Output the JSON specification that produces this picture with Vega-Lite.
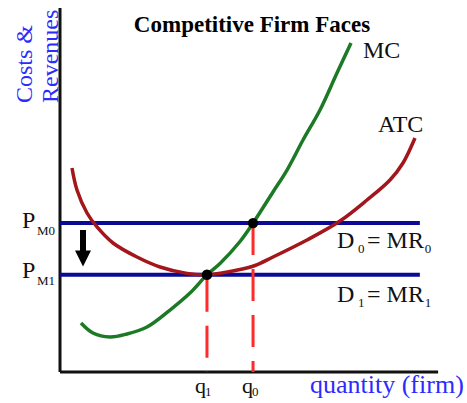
{
  "$schema": "https://vega.github.io/schema/vega-lite/v6.json",
  "autosize": "none",
  "width": 467,
  "height": 403,
  "padding": 0,
  "background": "white",
  "config": {"view": {"stroke": null}},
  "datasets": {
    "curves": [
      {"series": "MC", "q": 0.553, "p": 1.346},
      {"series": "MC", "q": 0.868, "p": 1.071},
      {"series": "MC", "q": 1.316, "p": 0.962},
      {"series": "MC", "q": 1.763, "p": 1.044},
      {"series": "MC", "q": 2.289, "p": 1.236},
      {"series": "MC", "q": 2.895, "p": 1.703},
      {"series": "MC", "q": 3.421, "p": 2.17},
      {"series": "MC", "q": 3.868, "p": 2.67},
      {"series": "MC", "q": 4.211, "p": 2.981},
      {"series": "MC", "q": 4.737, "p": 3.585},
      {"series": "MC", "q": 5.08, "p": 4.09},
      {"series": "MC", "q": 5.605, "p": 4.945},
      {"series": "MC", "q": 5.974, "p": 5.549},
      {"series": "MC", "q": 6.395, "p": 6.374},
      {"series": "MC", "q": 6.842, "p": 7.198},
      {"series": "MC", "q": 7.289, "p": 8.214},
      {"series": "MC", "q": 7.658, "p": 9.038},
      {"series": "ATC", "q": 0.316, "p": 5.604},
      {"series": "ATC", "q": 0.447, "p": 5.0},
      {"series": "ATC", "q": 0.711, "p": 4.368},
      {"series": "ATC", "q": 0.974, "p": 3.984},
      {"series": "ATC", "q": 1.395, "p": 3.544},
      {"series": "ATC", "q": 2.026, "p": 3.159},
      {"series": "ATC", "q": 2.632, "p": 2.885},
      {"series": "ATC", "q": 3.342, "p": 2.71},
      {"series": "ATC", "q": 3.868, "p": 2.67},
      {"series": "ATC", "q": 4.737, "p": 2.816},
      {"series": "ATC", "q": 5.132, "p": 2.926},
      {"series": "ATC", "q": 5.605, "p": 3.159},
      {"series": "ATC", "q": 6.5, "p": 3.626},
      {"series": "ATC", "q": 7.368, "p": 4.148},
      {"series": "ATC", "q": 8.079, "p": 4.725},
      {"series": "ATC", "q": 8.684, "p": 5.275},
      {"series": "ATC", "q": 9.026, "p": 5.742},
      {"series": "ATC", "q": 9.342, "p": 6.429}
    ]
  },
  "encoding": {
    "x": {"type": "quantitative", "scale": {"domain": [0, 10], "range": [60, 440], "zero": false, "nice": false}, "axis": null},
    "y": {"type": "quantitative", "scale": {"domain": [0, 10], "range": [372, 8], "zero": false, "nice": false}, "axis": null}
  },
  "layer": [
    {
      "data": {"values": [{"q0": 0, "q1": 9.95, "p0": 0, "p1": 0}, {"q0": 0, "q1": 0, "p0": 0, "p1": 10}]},
      "mark": {"type": "rule", "color": "#111111", "strokeWidth": 3},
      "encoding": {"x": {"field": "q0"}, "x2": {"field": "q1"}, "y": {"field": "p0"}, "y2": {"field": "p1"}}
    },
    {
      "data": {"values": [{"name": "D0", "p": 4.09, "q0": 0, "q1": 9.47}, {"name": "D1", "p": 2.67, "q0": 0, "q1": 9.47}]},
      "mark": {"type": "rule", "color": "#0a0a96", "strokeWidth": 4},
      "encoding": {"x": {"field": "q0"}, "x2": {"field": "q1"}, "y": {"field": "p"}}
    },
    {
      "data": {"values": [{"q": 5.08, "p0": 4.09, "p1": 0}]},
      "mark": {"type": "rule", "color": "#ff2a2a", "strokeWidth": 3, "strokeDash": [32, 14]},
      "encoding": {"x": {"field": "q"}, "y": {"field": "p0"}, "y2": {"field": "p1"}}
    },
    {
      "data": {"values": [{"q": 3.868, "p0": 2.67, "p1": 0}]},
      "mark": {"type": "rule", "color": "#ff2a2a", "strokeWidth": 3, "strokeDash": [32, 14], "strokeDashOffset": 41},
      "encoding": {"x": {"field": "q"}, "y": {"field": "p0"}, "y2": {"field": "p1"}}
    },
    {
      "data": {"name": "curves"},
      "mark": {"type": "line", "strokeWidth": 3.5, "interpolate": "catmull-rom"},
      "encoding": {
        "x": {"field": "q"},
        "y": {"field": "p"},
        "color": {"field": "series", "type": "nominal", "scale": {"domain": ["MC", "ATC"], "range": ["#1c7a26", "#a3161b"]}, "legend": null}
      }
    },
    {
      "data": {"values": [{"q": 3.868, "p": 2.67}, {"q": 5.08, "p": 4.09}]},
      "mark": {"type": "point", "shape": "circle", "filled": true, "color": "#000000", "size": 110, "opacity": 1},
      "encoding": {"x": {"field": "q"}, "y": {"field": "p"}}
    },
    {
      "data": {"values": [{"q": 0.605, "p0": 3.901, "p1": 3.25}]},
      "mark": {"type": "rule", "color": "#000000", "strokeWidth": 6},
      "encoding": {"x": {"field": "q"}, "y": {"field": "p0"}, "y2": {"field": "p1"}}
    },
    {
      "data": {"values": [{"q": 0.605, "p": 3.118}]},
      "mark": {"type": "point", "shape": "M-1,-1L1,-1L0,1Z", "filled": true, "color": "#000000", "size": 256, "opacity": 1},
      "encoding": {"x": {"field": "q"}, "y": {"field": "p"}}
    },
    {
      "data": {"values": [{"label": "Competitive Firm Faces", "q": 5.053, "p": 9.341}]},
      "mark": {"type": "text", "font": "Liberation Serif", "fontWeight": "bold", "fontSize": 23, "align": "center", "baseline": "alphabetic", "color": "#000000"},
      "encoding": {"x": {"field": "q"}, "y": {"field": "p"}, "text": {"field": "label"}}
    },
    {
      "data": {"values": [
        {"label": "MC", "q": 7.974, "p": 8.626},
        {"label": "ATC", "q": 8.368, "p": 6.593},
        {"label": "P", "q": -1.0, "p": 3.956},
        {"label": "P", "q": -1.0, "p": 2.582},
        {"label": "D", "q": 7.289, "p": 3.407},
        {"label": "= MR", "q": 8.079, "p": 3.407},
        {"label": "D", "q": 7.289, "p": 1.923},
        {"label": "= MR", "q": 8.079, "p": 1.923}
      ]},
      "mark": {"type": "text", "font": "Liberation Serif", "fontSize": 24, "align": "left", "baseline": "alphabetic", "color": "#111111"},
      "encoding": {"x": {"field": "q"}, "y": {"field": "p"}, "text": {"field": "label"}}
    },
    {
      "data": {"values": [
        {"label": "q", "q": 3.553, "p": -0.577},
        {"label": "q", "q": 4.79, "p": -0.577}
      ]},
      "mark": {"type": "text", "font": "Liberation Serif", "fontSize": 22, "align": "left", "baseline": "alphabetic", "color": "#111111"},
      "encoding": {"x": {"field": "q"}, "y": {"field": "p"}, "text": {"field": "label"}}
    },
    {
      "data": {"values": [
        {"label": "M0", "q": -0.605, "p": 3.764},
        {"label": "M1", "q": -0.605, "p": 2.39},
        {"label": "0", "q": 7.842, "p": 3.269},
        {"label": "0", "q": 9.6, "p": 3.269},
        {"label": "1", "q": 7.842, "p": 1.786},
        {"label": "1", "q": 9.6, "p": 1.786},
        {"label": "1", "q": 3.816, "p": -0.659},
        {"label": "0", "q": 5.05, "p": -0.659}
      ]},
      "mark": {"type": "text", "font": "Liberation Serif", "fontSize": 13, "align": "left", "baseline": "alphabetic", "color": "#111111"},
      "encoding": {"x": {"field": "q"}, "y": {"field": "p"}, "text": {"field": "label"}}
    },
    {
      "data": {"values": [{"label": "quantity (firm)", "q": 6.579, "p": -0.577}]},
      "mark": {"type": "text", "font": "Liberation Serif", "fontSize": 26, "align": "left", "baseline": "alphabetic", "color": "#2b2bff"},
      "encoding": {"x": {"field": "q"}, "y": {"field": "p"}, "text": {"field": "label"}}
    },
    {
      "data": {"values": [
        {"label": "Costs &", "q": -0.737, "p": 7.39},
        {"label": "Revenues", "q": -0.053, "p": 7.39}
      ]},
      "mark": {"type": "text", "font": "Liberation Serif", "fontSize": 24, "angle": 270, "align": "left", "baseline": "alphabetic", "color": "#2b2bff"},
      "encoding": {"x": {"field": "q"}, "y": {"field": "p"}, "text": {"field": "label"}}
    }
  ]
}
